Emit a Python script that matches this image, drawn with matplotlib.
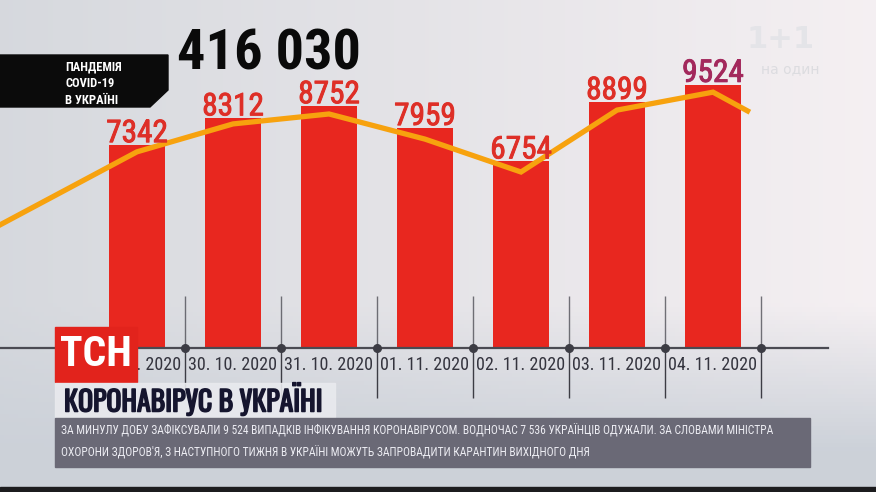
import numpy as np
import matplotlib
matplotlib.use('Agg')
import matplotlib.pyplot as plt
import matplotlib.patheffects as pe
from matplotlib.patches import Polygon, Rectangle

# дані
dates = ["29. 10. 2020", "30. 10. 2020", "31. 10. 2020", "01. 11. 2020",
         "02. 11. 2020", "03. 11. 2020", "04. 11. 2020"]
cases = [7342, 8312, 8752, 7959, 6754, 8899, 9524]
trend_x = [-1.43, 0, 1, 2, 3, 4, 5, 6, 6.36]
trend_y = [4450, 7100, 8110, 8470, 7560, 6370, 8610, 9260, 8580]
total = "416 030"
tag_lines = ["ПАНДЕМІЯ", "COVID-19", "В УКРАЇНІ"]
headline = "КОРОНАВІРУС В УКРАЇНІ"
ticker = ["ЗА МИНУЛУ ДОБУ ЗАФІКСУВАЛИ 9 524 ВИПАДКІВ ІНФІКУВАННЯ КОРОНАВІРУСОМ. ВОДНОЧАС 7 536 УКРАЇНЦІВ ОДУЖАЛИ. ЗА СЛОВАМИ МІНІСТРА",
          "ОХОРОНИ ЗДОРОВ'Я, З НАСТУПНОГО ТИЖНЯ В УКРАЇНІ МОЖУТЬ ЗАПРОВАДИТИ КАРАНТИН ВИХІДНОГО ДНЯ"]

NARROW = ['Roboto Condensed', 'PT Sans Narrow', 'Fira Sans Condensed', 'Archivo Narrow', 'DejaVu Sans']
TALL = ['Oswald', 'Roboto Condensed', 'DejaVu Sans']
W, H = 876, 492

fig = plt.figure(figsize=(W / 100, H / 100), dpi=100)

# фон - м'який градієнт
bg = fig.add_axes([0, 0, 1, 1], zorder=0)
xx, yy = np.meshgrid(np.linspace(0, 1, 200), np.linspace(0, 1, 120))
left = np.array([0.84, 0.85, 0.87])
right = np.array([0.96, 0.94, 0.95])
img = left[None, None, :] * (1 - xx[..., None]) + right[None, None, :] * xx[..., None]
low = np.array([0.80, 0.82, 0.85])
mix = np.clip((yy - 0.62) / 0.3, 0, 1)[..., None]
img = img * (1 - mix) + low[None, None, :] * mix
bg.imshow(img, extent=[0, W, H, 0], aspect='auto')
bg.set_xlim(0, W)
bg.set_ylim(H, 0)
bg.axis('off')

# основний графік
base_px = 348
scale = 0.02763  # пікселів на одиницю
ax = fig.add_axes([0, (H - base_px) / H, 1, base_px / H], zorder=2)
ax.patch.set_alpha(0)
ax.set_xlim(-137 / 96, (W - 137) / 96)
ax.set_ylim(0, base_px / scale)
for s in ax.spines.values():
    s.set_visible(False)
ax.set_yticks([])

x = np.arange(len(cases))
sep = x + 0.5
ax.vlines(sep, -50 / scale, 0, color='#3c3c44', lw=1.0, clip_on=False, zorder=1)
ax.vlines(sep, 0, 52 / scale, color='#3c3c44', lw=1.0, alpha=0.7, clip_on=False, zorder=1)
ax.bar(x, cases, width=0.573, color='#e8271f', zorder=2)
ax.plot(trend_x, trend_y, color='#f7a20e', lw=3.8, solid_joinstyle='miter', zorder=3, clip_on=False)

for i, v in enumerate(cases):
    col = '#a3285c' if i == len(cases) - 1 else '#de2f27'
    ax.text(i, v + 3 / scale, str(v), ha='center', va='baseline', fontsize=22.5,
            fontweight='normal', family=NARROW, color=col, zorder=4,
            path_effects=[pe.withStroke(linewidth=0.7, foreground=col)])

# вісь та розділювачі
ax.plot([-1.43, 7.2], [0, 0], color='#4a4a52', lw=1.6, clip_on=False, zorder=3)
ax.scatter(sep, np.zeros_like(sep), marker='o', s=30, color='#3c3c44',
           clip_on=False, zorder=4)
ax.set_xticks(x, dates)
ax.tick_params(axis='x', length=0, pad=6, labelsize=13, colors='#34343e')
for lbl in ax.get_xticklabels():
    lbl.set_family(NARROW)

# накладання в піксельних координатах
ov = fig.add_axes([0, 0, 1, 1], zorder=5)
ov.set_xlim(0, W)
ov.set_ylim(H, 0)
ov.axis('off')
ov.patch.set_alpha(0)

ov.text(177, 70, total, fontsize=40.5, fontweight='bold', family=NARROW,
        color='#0a0a0a', va='baseline', ha='left')

ov.add_patch(Polygon([(0, 55), (168, 55), (168, 90), (150, 107), (0, 107)],
                     closed=True, color='#0b0b0b'))
for k, t in enumerate(tag_lines):
    ov.text(65, 67 + k * 16.5, t, fontsize=9, fontweight='bold', family=NARROW,
            color='white', va='center', ha='left')

# логотип ТСН
ov.add_patch(Rectangle((55, 327), 82, 55, color='#e2231c'))
ov.text(96, 355, "ТСН", fontsize=30, fontweight='bold', family=NARROW,
        color='white', ha='center', va='center')

# заголовок
ov.add_patch(Rectangle((55, 383), 280, 34, color='#e9eaee', alpha=0.9))
ov.text(64, 411.5, headline, fontsize=20, fontweight='bold', family=TALL,
        color='#15152e', ha='left', va='baseline',
        path_effects=[pe.withStroke(linewidth=1.1, foreground='#15152e')])

# рядок новин
ov.add_patch(Rectangle((55, 418), 755, 49, color='#6a6976'))
for k, t in enumerate(ticker):
    ov.text(61, 431 + k * 22, t, fontsize=8.3, family=NARROW,
            color='#ececf2', ha='left', va='center')

ov.add_patch(Rectangle((0, 487), W, 5, color='#1c1c1e'))

# водяний знак
ov.text(781, 40, "1+1", fontsize=22, fontweight='bold', color='#e4e4e8',
        ha='center', va='center')
ov.text(790, 69, "на один", fontsize=10, color='#dcdce0', ha='center', va='center')

fig.savefig('out.png', dpi=100)
